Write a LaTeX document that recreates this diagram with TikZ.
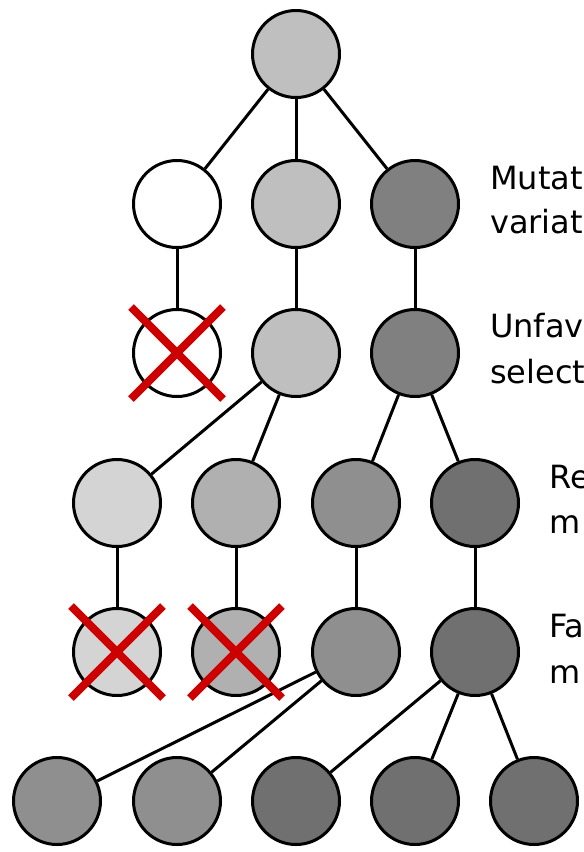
\documentclass[tikz,border=0pt]{standalone}
\usepackage{fontspec}
\setmainfont{DejaVu Sans}
\usepackage{tikz}
\usetikzlibrary{positioning}

\tikzset{
    org/.style={circle, draw=black, line width=3pt, minimum size=87pt, inner sep=0pt},
    lbl/.style={anchor=base west, inner sep=0pt, font=\fontsize{32}{38}\selectfont},
    kill/.style={draw=red!80!black, line width=8pt}
}

\begin{document}
\begin{tikzpicture}[x=1pt,y=-1pt]
        \useasboundingbox (0,0) rectangle (584,852);
        \clip (0,0) rectangle (584,852);
        % Generation 0
        \node[org, fill=black!25] (g0) at (296,54) {};
        % Generation 1
        \node[org, fill=white] (g1a) at (177,204) {};
        \node[org, fill=black!25] (g1b) at (296,204) {};
        \node[org, fill=black!50] (g1c) at (415,204) {};
        % Generation 2
        \node[org, fill=white] (g2a) at (177,353) {};
        \node[org, fill=black!25] (g2b) at (296,353) {};
        \node[org, fill=black!50] (g2c) at (415,353) {};
        % Generation 3
        \node[org, fill=black!17] (g3a) at (117,503) {};
        \node[org, fill=black!31] (g3b) at (236,503) {};
        \node[org, fill=black!44] (g3c) at (356,503) {};
        \node[org, fill=black!56] (g3d) at (475,503) {};
        % Generation 4
        \node[org, fill=black!17] (g4a) at (117,652) {};
        \node[org, fill=black!31] (g4b) at (236,652) {};
        \node[org, fill=black!44] (g4c) at (356,652) {};
        \node[org, fill=black!56] (g4d) at (475,652) {};
        % Generation 5
        \node[org, fill=black!44] (g5a) at (57,801) {};
        \node[org, fill=black!44] (g5b) at (177,801) {};
        \node[org, fill=black!56] (g5c) at (296,801) {};
        \node[org, fill=black!56] (g5d) at (415,801) {};
        \node[org, fill=black!56] (g5e) at (534,801) {};
        % Lines of descent
        \draw[line width=3pt] (g0) -- (g1a);
        \draw[line width=3pt] (g0) -- (g1b);
        \draw[line width=3pt] (g0) -- (g1c);
        \draw[line width=3pt] (g1a) -- (g2a);
        \draw[line width=3pt] (g1b) -- (g2b);
        \draw[line width=3pt] (g1c) -- (g2c);
        \draw[line width=3pt] (g2b) -- (g3a);
        \draw[line width=3pt] (g2b) -- (g3b);
        \draw[line width=3pt] (g2c) -- (g3c);
        \draw[line width=3pt] (g2c) -- (g3d);
        \draw[line width=3pt] (g3a) -- (g4a);
        \draw[line width=3pt] (g3b) -- (g4b);
        \draw[line width=3pt] (g3c) -- (g4c);
        \draw[line width=3pt] (g3d) -- (g4d);
        \draw[line width=3pt] (g4c) -- (g5a);
        \draw[line width=3pt] (g4c) -- (g5b);
        \draw[line width=3pt] (g4d) -- (g5c);
        \draw[line width=3pt] (g4d) -- (g5d);
        \draw[line width=3pt] (g4d) -- (g5e);
        % Crosses
        \draw[kill] (g2a.center) ++(-46,-46) -- ++(92,92);
        \draw[kill] (g2a.center) ++(46,-46) -- ++(-92,92);
        \draw[kill] (g4a.center) ++(-46,-46) -- ++(92,92);
        \draw[kill] (g4a.center) ++(46,-46) -- ++(-92,92);
        \draw[kill] (g4b.center) ++(-46,-46) -- ++(92,92);
        \draw[kill] (g4b.center) ++(46,-46) -- ++(-92,92);
        % Labels on the right
        \node[lbl] (mut1) at (490,189) {Mutat};
        \node[lbl] (mut2) at (490,233) {variat};
        \node[lbl] (unf1) at (490,337) {Unfav};
        \node[lbl] (unf2) at (490,383) {select};
        \node[lbl] (rem1) at (549,488) {Re};
        \node[lbl] (rem2) at (549,533) {m};
        \node[lbl] (fav1) at (549,637) {Fa};
        \node[lbl] (fav2) at (549,683) {m};
    \end{tikzpicture}
\end{document}
